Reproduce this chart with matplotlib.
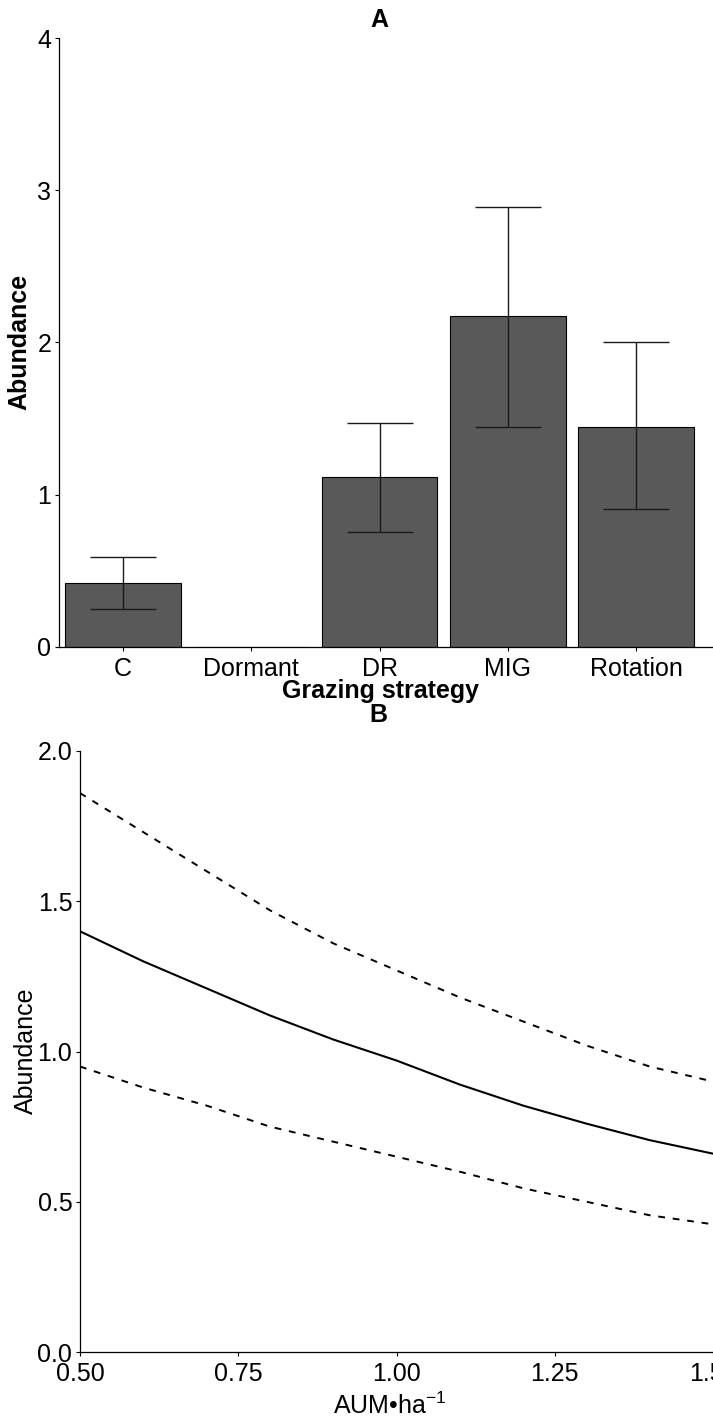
import numpy as np
import matplotlib.pyplot as plt

# Panel A: abundance by grazing strategy (mean with interval)
strategies = ['C', 'Dormant', 'DR', 'MIG', 'Rotation']
abund_mean = [0.42, 0.0, 1.115, 2.175, 1.447]
abund_low = [0.25, np.nan, 0.755, 1.447, 0.904]
abund_high = [0.59, np.nan, 1.473, 2.89, 2.0]

# Panel B: predicted abundance vs stocking rate with 95% bounds
stocking = [0.5, 0.6, 0.7, 0.8, 0.9, 1.0, 1.1, 1.2, 1.3, 1.4, 1.5]
pred = [1.40, 1.30, 1.21, 1.12, 1.04, 0.97, 0.89, 0.82, 0.76, 0.705, 0.66]
pred_upper = [1.86, 1.73, 1.60, 1.47, 1.36, 1.27, 1.18, 1.10, 1.02, 0.95, 0.90]
pred_lower = [0.95, 0.88, 0.82, 0.75, 0.70, 0.65, 0.60, 0.545, 0.50, 0.455, 0.425]

plt.rcParams['font.family'] = ['Liberation Sans', 'DejaVu Sans']
plt.rcParams['font.size'] = 18
plt.rcParams['mathtext.fontset'] = 'custom'
plt.rcParams['mathtext.rm'] = 'Liberation Sans'

W, H = 713, 1420
fig = plt.figure(figsize=(W / 100, H / 100), dpi=100)
ax1 = fig.add_axes([59 / W, 1 - 647 / H, 654 / W, 609 / H])
ax2 = fig.add_axes([80 / W, 1 - 1352 / H, 633 / W, 601 / H])

def fx(px):
    return px / W

def fy(py):
    return 1 - py / H

# bars
x = np.arange(len(strategies))
mean = np.array(abund_mean)
lo = np.array(abund_low)
hi = np.array(abund_high)
ax1.bar(x, mean, 0.9, color='#595959', edgecolor='black', linewidth=0.8, zorder=2)
ax1.errorbar(x, mean, yerr=[mean - lo, hi - mean], fmt='none', ecolor='#1a1a1a',
             elinewidth=1.0, capsize=23.5, capthick=1.0, zorder=3)
ax1.set_xlim(-0.5, 4.6)
ax1.set_ylim(0, 4)
ax1.set_xticks(x, strategies)
ax1.set_yticks([0, 1, 2, 3, 4])
ax1.set_ylabel('Abundance', fontweight='bold')
ax1.yaxis.set_label_coords(fx(31), fy(342), transform=fig.transFigure)
ax1.set_xlabel('Grazing strategy', fontweight='bold', va='top')
ax1.xaxis.set_label_coords(fx(380), fy(679), transform=fig.transFigure)
fig.text(fx(379), fy(27), 'A', ha='center', va='baseline', fontweight='bold')

# fitted curve and bounds
ax2.plot(stocking, pred, color='black', linewidth=1.5)
ax2.plot(stocking, pred_upper, color='black', linewidth=1.4, dashes=(3.5, 4))
ax2.plot(stocking, pred_lower, color='black', linewidth=1.4, dashes=(3.5, 4))
ax2.set_xlim(0.5, 1.5)
ax2.set_ylim(0, 2)
ax2.set_xticks([0.5, 0.75, 1.0, 1.25, 1.5], ['0.50', '0.75', '1.00', '1.25', '1.50'])
ax2.set_yticks([0, 0.5, 1.0, 1.5, 2.0], ['0.0', '0.5', '1.0', '1.5', '2.0'])
ax2.set_ylabel('Abundance')
ax2.yaxis.set_label_coords(fx(38), fy(1051), transform=fig.transFigure)
ax2.set_xlabel('AUM•ha$^{\\mathregular{-1}}$', va='top')
ax2.xaxis.set_label_coords(fx(390), fy(1393), transform=fig.transFigure)
fig.text(fx(378), fy(722), 'B', ha='center', va='baseline', fontweight='bold')

for ax in (ax1, ax2):
    ax.spines['top'].set_visible(False)
    ax.spines['right'].set_visible(False)
    ax.spines['left'].set_linewidth(0.9)
    ax.spines['bottom'].set_linewidth(0.9)
    ax.tick_params(direction='out', length=3, width=0.8)
    ax.tick_params(axis='x', pad=4)
    ax.tick_params(axis='y', pad=2.5)

fig.savefig('out.png', dpi=100)
